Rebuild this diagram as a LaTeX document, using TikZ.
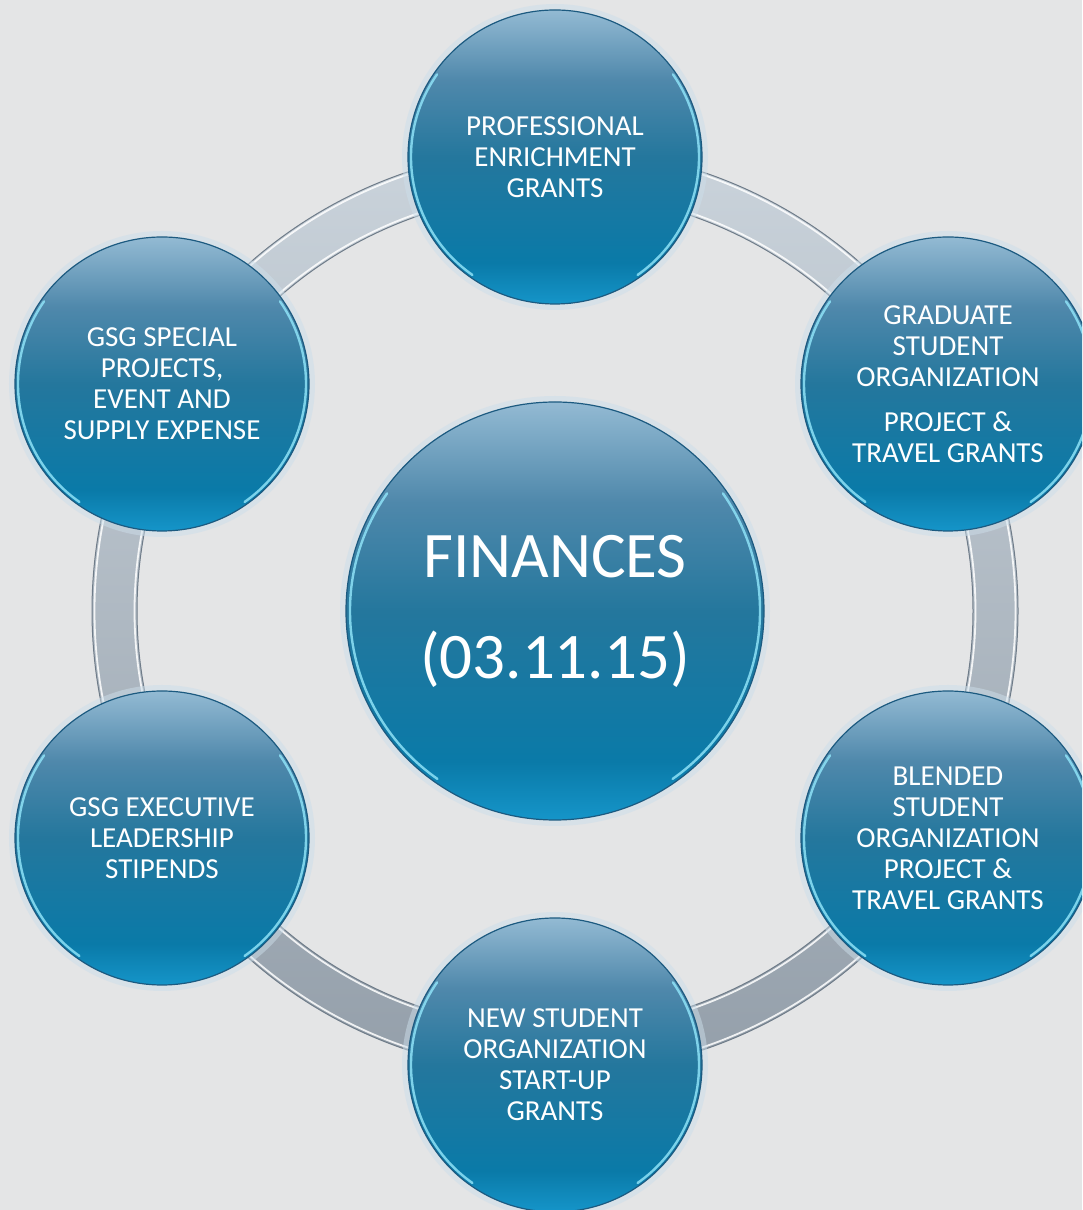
\documentclass[tikz,border=0pt]{standalone}
\usepackage{fontspec}
\setmainfont{Carlito}

\definecolor{bgcol}{HTML}{E4E5E6}
\definecolor{bubbleA}{HTML}{93BAD3}
\definecolor{bubbleAB}{HTML}{4F88AB}
\definecolor{bubbleB}{HTML}{24779D}
\definecolor{bubbleC}{HTML}{0A7AA8}
\definecolor{bubbleD}{HTML}{1595C9}
\definecolor{bubbleline}{HTML}{1C5A80}
\definecolor{rimcol}{HTML}{8EE2F7}
\definecolor{glowcol}{HTML}{CCDEEA}
\definecolor{ringtop}{HTML}{CAD3DB}
\definecolor{ringbot}{HTML}{949FAA}
\definecolor{ringedge}{HTML}{6F7C89}

\pgfdeclareverticalshading{bubblegrad}{100bp}{color(0bp)=(bubbleD); color(25bp)=(bubbleD); color(32bp)=(bubbleC); color(50bp)=(bubbleB); color(63bp)=(bubbleAB); color(75bp)=(bubbleA); color(100bp)=(bubbleA)}

\tikzset{
  bubble/.style={circle, minimum size=294pt, inner sep=0pt, outer sep=0pt,
    shade, shading=bubblegrad, draw=bubbleline, line width=1.2pt,
    preaction={draw=glowcol, line width=12pt, opacity=0.5},
    text=white, align=center, font=\fontsize{29}{31}\selectfont},
  hub/.style={bubble, minimum size=418pt, font=\fontsize{65}{101}\selectfont},
  rim/.style={draw=rimcol, line width=2.4pt, line cap=round, opacity=0.85},
}

\begin{document}
\begin{tikzpicture}[x=1pt, y=1pt]
\useasboundingbox (0,0) rectangle (1082,1210);
\clip (0,0) rectangle (1082,1210);
\fill[bgcol] (0,0) rectangle (1082,1210);

% hub in the middle
\node[hub] (fin) at (555,599) {\raisebox{-4pt}{FINANCES}\\\raisebox{-4pt}{(03.11.15)}};

% ring behind the outer bubbles
\shade[top color=ringtop, bottom color=ringbot, even odd rule]
  (fin.center) circle (463) (fin.center) circle (418);
\draw[ringedge, line width=1pt] (fin.center) circle (463) (fin.center) circle (418);
\draw[white, line width=1.8pt, opacity=0.85] (fin.center) circle (460.5) (fin.center) circle (420.5);

% outer bubbles
\node[bubble] (peg) at (555,1053) {PROFESSIONAL\\ENRICHMENT\\GRANTS};
\node[bubble] (gsog) at (948,826) {GRADUATE\\STUDENT\\ORGANIZATION\\[14pt]PROJECT \&\\TRAVEL GRANTS};
\node[bubble] (bsog) at (948,372) {BLENDED\\STUDENT\\ORGANIZATION\\PROJECT \&\\TRAVEL GRANTS};
\node[bubble] (nsog) at (555,145) {NEW STUDENT\\ORGANIZATION\\START-UP\\GRANTS};
\node[bubble] (exec) at (162,372) {GSG EXECUTIVE\\LEADERSHIP\\STIPENDS};
\node[bubble] (spec) at (162,826) {GSG SPECIAL\\PROJECTS,\\EVENT AND\\SUPPLY EXPENSE};

% light rims on both lower sides
\draw[rim] (fin.center) ++(145:205) arc[start angle=145, end angle=235, radius=205];
\draw[rim] (fin.center) ++(-55:205) arc[start angle=-55, end angle=35, radius=205];
\foreach \n in {peg,gsog,bsog,nsog,exec,spec}{
  \draw[rim] (\n.center) ++(145:144) arc[start angle=145, end angle=235, radius=144];
  \draw[rim] (\n.center) ++(-55:144) arc[start angle=-55, end angle=35, radius=144];
}
\end{tikzpicture}
\end{document}
